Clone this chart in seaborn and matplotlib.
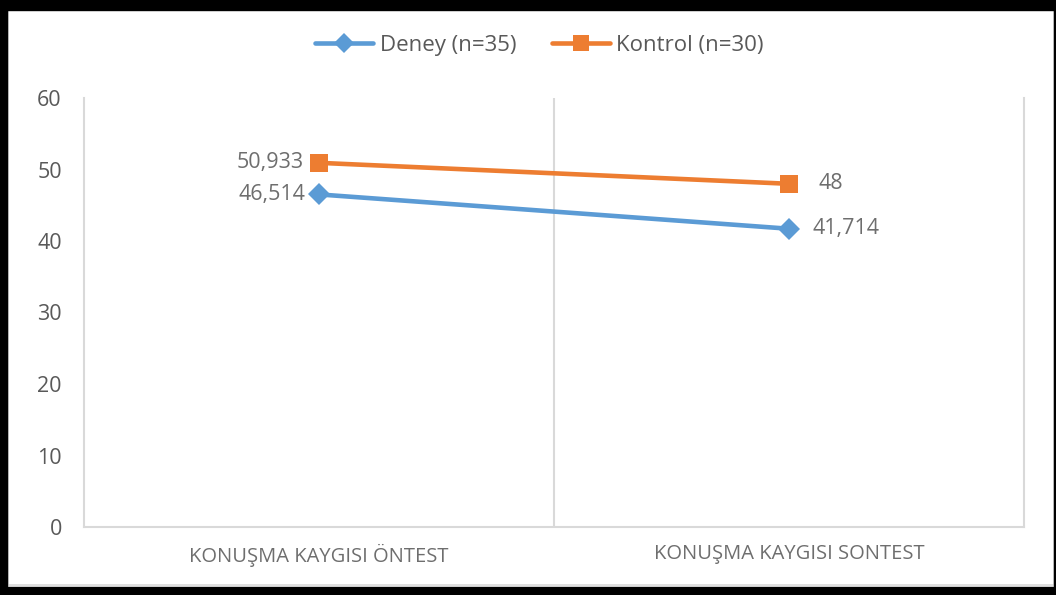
import matplotlib
matplotlib.use("Agg")
import matplotlib.pyplot as plt
from matplotlib.patches import Rectangle
from matplotlib.lines import Line2D
import seaborn as sns
import pandas as pd

categories = ["KONUŞMA KAYGISI ÖNTEST", "KONUŞMA KAYGISI SONTEST"]
series_names = ["Deney (n=35)", "Kontrol (n=30)"]
deney_values = [46.514, 41.714]
kontrol_values = [50.933, 48]
y_ticks = [0, 10, 20, 30, 40, 50, 60]

colors = {"Deney (n=35)": "#5B9BD5", "Kontrol (n=30)": "#ED7D31"}
markers = {"Deney (n=35)": "D", "Kontrol (n=30)": "s"}
text_color = "#595959"
label_color = "#6E6E6E"
grid_color = "#D9D9D9"

sns.set_theme(style="white")
plt.rcParams["font.family"] = ["Open Sans", "DejaVu Sans"]

rows = []
for name, vals in zip(series_names, [deney_values, kontrol_values]):
    for i, v in enumerate(vals):
        rows.append({"pos": i, "value": v, "series": name})
df = pd.DataFrame(rows)

fig = plt.figure(figsize=(10.56, 5.95), dpi=100)
ax = fig.add_axes([84 / 1056, (595 - 527) / 595, 940 / 1056, 429 / 595])

sns.lineplot(data=df, x="pos", y="value", hue="series", style="series",
             palette=colors, markers=markers, dashes=False, linewidth=3.3,
             ax=ax, legend=False, sort=False)
for line, name in zip(ax.lines, series_names):
    line.set_markersize(11.5 if name.startswith("Deney") else 13.5)
    line.set_markeredgewidth(0)

ax.set_xlim(-0.5, 1.5)
ax.set_ylim(0, 60)
ax.set_yticks(y_ticks)
ax.set_yticklabels([str(t) for t in y_ticks], fontsize=15.5, color=text_color)
ax.set_xticks(range(len(categories)))
ax.set_xticklabels(categories, fontsize=14.5, color=label_color)
ax.tick_params(axis="y", length=0, pad=16)
ax.tick_params(axis="x", length=0, pad=12)
ax.set_xlabel("")
ax.set_ylabel("")

for side in ["left", "right", "bottom"]:
    ax.spines[side].set_visible(True)
    ax.spines[side].set_color(grid_color)
    ax.spines[side].set_linewidth(1.5)
ax.spines["top"].set_visible(False)
ax.axvline(0.5, color=grid_color, linewidth=1.5, zorder=0)

def fmt(v):
    return f"{v:g}".replace(".", ",")

label_specs = [
    (deney_values, [(-10, 0, "right"), (17, 0, "left")]),
    (kontrol_values, [(-11, 0, "right"), (21, 0, "left")]),
]
for vals, specs in label_specs:
    for i, (v, (dx, dy, ha)) in enumerate(zip(vals, specs)):
        ax.annotate(fmt(v), (i, v), xytext=(dx, dy), textcoords="offset points",
                    ha=ha, va="center", fontsize=15.5, color=label_color)

handles = [Line2D([], [], color=colors[n], marker=markers[n], linewidth=3.3,
                  markersize=(10.5 if n.startswith("Deney") else 12), markeredgewidth=0)
           for n in series_names]
fig.legend(handles, series_names, loc="center", bbox_to_anchor=(0.511, 0.924),
           ncol=2, frameon=False, fontsize=16, labelcolor=text_color,
           handlelength=2.6, handletextpad=0.3, columnspacing=1.6)

# chart area frame
W, H = 1056, 595
fig.patches.append(Rectangle((8 / W, 10 / H), (1054 - 8) / W, (587 - 10) / H,
                             transform=fig.transFigure, fill=False,
                             edgecolor=grid_color, linewidth=1.2, zorder=5))
for (x0, y0, w, h) in [(0, 0, W, 10), (0, 587, W, 8), (0, 0, 7, H), (1054, 0, 2, H)]:
    fig.patches.append(Rectangle((x0 / W, 1 - (y0 + h) / H), w / W, h / H,
                                 transform=fig.transFigure, color="black", zorder=6))

fig.savefig("out.png", dpi=100)
